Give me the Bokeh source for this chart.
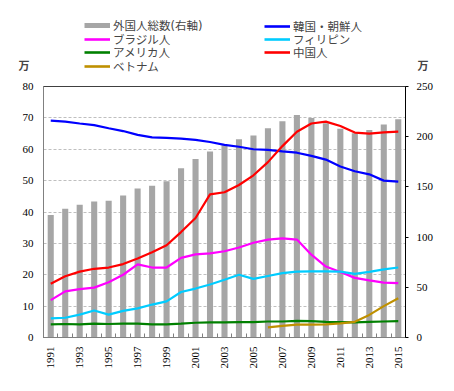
from bokeh.plotting import figure
from bokeh.models import (LinearAxis, Range1d, FixedTicker, Legend, LegendItem, Label)
from bokeh.layouts import column
from bokeh.embed import file_html
from bokeh.resources import INLINE

years = list(range(1991, 2016))
total = [121.9, 128.2, 132.1, 135.4, 136.2, 141.5, 148.3, 151.2, 155.6, 168.6,
         177.8, 185.2, 191.5, 197.4, 201.2, 208.5, 215.3, 221.7, 218.6, 213.4,
         207.9, 203.4, 206.6, 212.2, 217.3]
korea = [69.1, 68.8, 68.2, 67.7, 66.7, 65.8, 64.6, 63.8, 63.6, 63.4, 63.0, 62.3,
         61.4, 60.8, 60.0, 59.8, 59.3, 58.9, 57.9, 56.7, 54.5, 53.0, 52.0, 50.0, 49.7]
china = [17.1, 19.5, 21.0, 21.9, 22.3, 23.4, 25.2, 27.2, 29.4, 33.6, 38.1, 45.6,
         46.3, 48.6, 51.7, 55.9, 61.0, 65.6, 68.2, 68.8, 67.4, 65.3, 65.0, 65.4, 65.6]
brazil = [11.9, 14.7, 15.4, 15.9, 17.6, 20.0, 23.3, 22.3, 22.3, 25.4, 26.5, 26.8,
          27.5, 28.7, 30.2, 31.2, 31.6, 31.2, 26.4, 22.6, 20.9, 19.0, 18.2, 17.5, 17.3]
philippines = [6.1, 6.3, 7.3, 8.6, 7.3, 8.5, 9.3, 10.5, 11.5, 14.5, 15.6, 16.9,
               18.4, 20.0, 18.7, 19.6, 20.5, 21.0, 21.1, 21.1, 21.0, 20.3, 20.9, 21.7, 22.3]
usa = [4.2, 4.3, 4.2, 4.4, 4.3, 4.4, 4.4, 4.2, 4.2, 4.4, 4.7, 4.8, 4.8, 4.9, 4.9,
       5.1, 5.1, 5.3, 5.2, 5.0, 4.9, 4.8, 5.0, 5.1, 5.2]
vietnam_years = list(range(2006, 2016))
vietnam = [3.2, 3.7, 4.1, 4.1, 4.2, 4.5, 5.0, 7.2, 10.0, 12.5]

idx = list(range(len(years)))
v_idx = [years.index(y) for y in vietnam_years]

JP = "Noto Sans CJK JP"
LEG_FONT = "DejaVu Sans, Noto Sans CJK JP"
NUM = "Liberation Sans Narrow"

C_TOTAL = "#A6A6A6"
C_KOREA = "#0000FF"
C_BRAZIL = "#FF00FF"
C_PHIL = "#00CCFF"
C_USA = "#008000"
C_CHINA = "#FF0000"
C_VIET = "#BF9000"
lw = 2.2

W = 454
TOP_H = 76
NAN = float("nan")

# ---------- header (legend + unit labels) ----------
h = figure(width=W, height=TOP_H, x_range=Range1d(0, W), y_range=Range1d(0, TOP_H),
           output_backend="svg", toolbar_location=None, title=None,
           x_axis_location=None, y_axis_location=None,
           min_border=0, min_border_left=0, min_border_right=0,
           min_border_top=0, min_border_bottom=0)
h.frame_align = False
h.outline_line_color = None
h.xgrid.visible = False
h.ygrid.visible = False

# legend proxies (no visible data)
px_total = h.line(x=[NAN], y=[NAN], line_color=C_TOTAL, line_width=5)
px_brazil = h.line(x=[NAN], y=[NAN], line_color=C_BRAZIL, line_width=2.6)
px_usa = h.line(x=[NAN], y=[NAN], line_color=C_USA, line_width=2.6)
px_viet = h.line(x=[NAN], y=[NAN], line_color=C_VIET, line_width=2.6)
px_korea = h.line(x=[NAN], y=[NAN], line_color=C_KOREA, line_width=2.6)
px_phil = h.line(x=[NAN], y=[NAN], line_color=C_PHIL, line_width=2.6)
px_china = h.line(x=[NAN], y=[NAN], line_color=C_CHINA, line_width=2.6)

ROW_HALF = 7


def add_legend_entry(label, renderer, x, row_center):
    lg = Legend(items=[LegendItem(label=label, renderers=[renderer])],
                location=(x, TOP_H - row_center - ROW_HALF), orientation="vertical")
    lg.label_text_font = LEG_FONT
    lg.label_text_font_size = "11.5px"
    lg.label_height = 12
    lg.glyph_height = 12
    lg.glyph_width = 26
    lg.label_standoff = 3
    lg.spacing = 0
    lg.padding = 0
    lg.margin = 0
    lg.border_line_color = None
    lg.background_fill_alpha = 0
    lg.label_text_baseline = "middle"
    h.add_layout(lg, "center")


left_rows = [26, 39.5, 53, 66.7]
right_rows = [26.5, 39.5, 52.7]
for (t, r), yc in zip([("外国人総数(右軸)", px_total), ("ブラジル人", px_brazil),
                       ("アメリカ人", px_usa), ("ベトナム", px_viet)], left_rows):
    add_legend_entry(t, r, 84, yc)
for (t, r), yc in zip([("韓国・朝鮮人", px_korea), ("フィリピン", px_phil),
                       ("中国人", px_china)], right_rows):
    add_legend_entry(t, r, 264, yc)

for xs, t in [(23.5, "万"), (422.5, "万")]:
    h.add_layout(Label(x=xs, y=12, x_units="screen", y_units="screen", text=t,
                       text_align="center", text_baseline="middle",
                       text_font=JP, text_font_size="11px", text_font_style="bold"))

# ---------- main chart ----------
p = figure(width=W, height=391 - TOP_H, x_range=Range1d(-0.5, len(years) - 0.5),
           y_range=Range1d(0, 80), output_backend="svg", toolbar_location=None,
           title=None,
           min_border_left=43, min_border_right=49, min_border_top=10,
           min_border_bottom=54)
p.frame_align = False
p.outline_line_color = "#404040"

p.extra_y_ranges = {"r": Range1d(0, 250)}

p.vbar(x=idx, top=total, width=0.42, y_range_name="r",
       fill_color=C_TOTAL, line_color=None)

p.line(idx, korea, line_color=C_KOREA, line_width=lw)
p.line(idx, brazil, line_color=C_BRAZIL, line_width=lw)
p.line(idx, philippines, line_color=C_PHIL, line_width=lw)
p.line(idx, usa, line_color=C_USA, line_width=lw)
p.line(idx, china, line_color=C_CHINA, line_width=lw)
p.line(v_idx, vietnam, line_color=C_VIET, line_width=lw)

# x axis
xa = p.xaxis[0]
xa.ticker = FixedTicker(ticks=idx[::2], minor_ticks=[i - 0.5 for i in range(len(years) + 1)])
xa.major_label_overrides = {i: str(years[i]) for i in idx}
xa.major_label_orientation = 3.14159265 / 2
xa.major_tick_in = 0
xa.major_tick_out = 0
xa.minor_tick_in = 4
xa.minor_tick_out = 0
xa.minor_tick_line_color = "#808080"
xa.axis_line_color = "#808080"
xa.major_label_text_font = NUM
xa.major_label_text_font_size = "11px"
xa.major_label_text_color = "black"
xa.major_label_standoff = 9
p.xgrid.visible = False

# left axis
ya = p.yaxis[0]
ya.ticker = FixedTicker(ticks=list(range(0, 81, 10)))
ya.major_tick_in = 0
ya.major_tick_out = 0
ya.minor_tick_in = 0
ya.minor_tick_out = 0
ya.axis_line_color = "#808080"
ya.major_label_text_font = NUM
ya.major_label_text_font_size = "11px"
ya.major_label_text_color = "black"
ya.major_label_standoff = 10
p.ygrid.ticker = FixedTicker(ticks=list(range(10, 80, 10)))
p.ygrid.grid_line_color = "#BFBFBF"
p.ygrid.grid_line_dash = "3 2"

# right axis
ra = LinearAxis(y_range_name="r", ticker=FixedTicker(ticks=list(range(0, 251, 50))))
ra.major_tick_in = 0
ra.major_tick_out = 3
ra.minor_tick_in = 0
ra.minor_tick_out = 0
ra.axis_line_color = "black"
ra.major_tick_line_color = "black"
ra.major_label_text_font = NUM
ra.major_label_text_font_size = "11px"
ra.major_label_text_color = "black"
ra.major_label_standoff = 8
p.add_layout(ra, "right")

layout = column(h, p, spacing=0)
open("out.html", "w").write(file_html(layout, INLINE))
